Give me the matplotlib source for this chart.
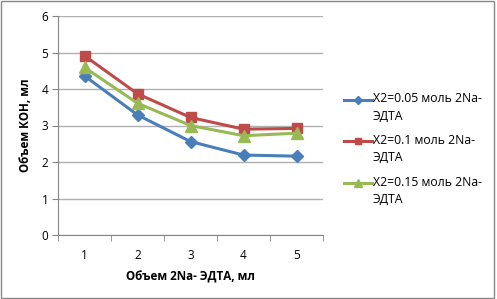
import matplotlib.pyplot as plt
from matplotlib.patches import Rectangle
from matplotlib.lines import Line2D

x_vals = [1, 2, 3, 4, 5]
y_005 = [4.36, 3.29, 2.56, 2.19, 2.16]
y_01 = [4.91, 3.87, 3.22, 2.90, 2.92]
y_015 = [4.59, 3.61, 3.00, 2.72, 2.79]
labels = ['X2=0.05 моль 2Na-\nЭДТА', 'X2=0.1 моль 2Na-\nЭДТА', 'X2=0.15 моль 2Na-\nЭДТА']

plt.rcParams['font.family'] = ['Open Sans', 'DejaVu Sans']

fig = plt.figure(figsize=(4.97, 2.99), dpi=100)
ax = fig.add_axes([58/497, 1-235/299, 265/497, 219/299])

styles = [('#4a7ebb', 'D', 6, 4), ('#be4b48', 's', 7.5, 5), ('#98b954', '^', 8, 5.5)]
series = [y_005, y_01, y_015]
for ys, (c, m, ms, lms) in zip(series, styles):
    ax.plot(x_vals, ys, color=c, marker=m, markersize=ms, linewidth=2.2)

ax.set_xlim(0.5, 5.5)
ax.set_ylim(0, 6)
ax.set_yticks(range(0, 7))
ax.set_xticks(x_vals)
ax.set_xticks([0.5, 1.5, 2.5, 3.5, 4.5, 5.5], minor=True)
ax.tick_params(axis='x', which='major', length=0, pad=10, labelsize=8.5)
ax.tick_params(axis='x', which='minor', length=4, color='#868686')
ax.tick_params(axis='y', length=4, color='#868686', labelsize=8.5, pad=3)
ax.yaxis.grid(True, color='#b0b0b0', linewidth=1)
ax.set_axisbelow(True)
for s in ['top', 'right']:
    ax.spines[s].set_visible(False)
for s in ['left', 'bottom']:
    ax.spines[s].set_color('#868686')

ax.set_xlabel('Объем 2Na- ЭДТА, мл', fontsize=8.4, fontweight='bold', labelpad=6)
ax.set_ylabel('Объем КОН, мл', fontsize=8.4, fontweight='bold', labelpad=7)

# legend drawn by hand, Excel style: handle level with the first text line
leg_y = [100, 141, 183]
for (c, m, ms, lms), lab, yy in zip(styles, labels, leg_y):
    fy = 1 - yy/299
    fig.add_artist(Line2D([344/497, 372/497], [fy, fy], transform=fig.transFigure,
                          color=c, linewidth=2.2))
    fig.add_artist(Line2D([358/497], [fy], transform=fig.transFigure, color=c,
                          marker=m, markersize=lms, linestyle='none'))
    fig.text(373/497, fy + 7.5/299, lab, fontsize=8.8, va='top', ha='left', linespacing=1.45)

fig.patches.append(Rectangle((0.003, 0.004), 0.99, 0.992, transform=fig.transFigure,
                             fill=False, edgecolor='#868686', linewidth=1))

fig.savefig('out.png', dpi=100)
